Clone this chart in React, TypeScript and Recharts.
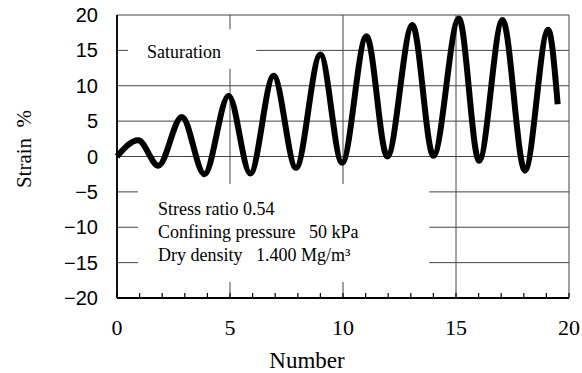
import { LineChart, Line, XAxis, YAxis, CartesianGrid, ReferenceArea } from 'recharts';

// cycle number and strain (%) at each turning point of the trace
const cycleNumber = [0, 0.94, 1.83, 2.87, 3.87, 4.94, 5.9, 6.93, 7.92, 9.0, 9.96, 11.04, 11.96, 13.07, 14.0, 15.13, 16.02, 17.06, 18.05, 19.08, 19.5];
const strain = [0, 2.3, -1.3, 5.6, -2.5, 8.6, -2.4, 11.4, -1.6, 14.4, -0.9, 17.0, 0.0, 18.6, 0.1, 19.5, -0.6, 19.3, -2.0, 17.9, 7.4];

const xTicks = [0, 1, 2, 3, 4, 5, 6, 7, 8, 9, 10, 11, 12, 13, 14, 15, 16, 17, 18, 19, 20];
const yTicks = [-20, -15, -10, -5, 0, 5, 10, 15, 20];
const gridX = [0, 5, 10, 15, 20];

const stateLabel = 'Saturation';
const noteLines = ['Stress ratio 0.54', 'Confining pressure   50 kPa', 'Dry density   1.400 Mg/m\u00B3'];

const data = cycleNumber.map((n, i) => ({ n, strain: strain[i] }));

const serif = '"Liberation Serif", "Times New Roman", serif';
const sans = '"Liberation Sans", Arial, sans-serif';

const XTick = (props: any) => {
  const { x, y, payload } = props;
  const v = payload.value;
  return (
    <g>
      <line x1={x} x2={x} y1={y} y2={y - 5} stroke="#000" strokeWidth={1.2} />
      {v % 5 === 0 && (
        <text x={x} y={y + 37} textAnchor="middle" fontFamily={serif} fontSize={22} fill="#000">
          {v}
        </text>
      )}
    </g>
  );
};

const SaturationText = () => (
  <text x={147} y={58} fontFamily={serif} fontSize={18} fill="#000">
    {stateLabel}
  </text>
);

const NotesText = () => (
  <g fontFamily={serif} fill="#000">
    {noteLines.map((t, i) => (
      <text key={i} x={158} y={215 + i * 23} fontSize={18} style={{ whiteSpace: 'pre' }}>
        {t}
      </text>
    ))}
  </g>
);

export default function App() {
  return (
    <div style={{ position: 'absolute', left: 0, top: 0, background: '#fff' }}>
      <LineChart width={582} height={373} data={data} margin={{ top: 15, right: 13, bottom: 0, left: 0 }}>
        <CartesianGrid stroke="#444" strokeWidth={1} verticalValues={gridX} />
        <ReferenceArea
          x1={0.49}
          x2={6.16}
          y1={12.4}
          y2={18.0}
          fill="#fff"
          fillOpacity={1}
          stroke="none"
          label={{ content: () => <SaturationText /> }}
        />
        <ReferenceArea
          x1={0.93}
          x2={13.82}
          y1={-17.75}
          y2={-3.9}
          fill="#fff"
          fillOpacity={1}
          stroke="none"
          label={{ content: () => <NotesText /> }}
        />
        <XAxis
          type="number"
          dataKey="n"
          domain={[0, 20]}
          ticks={xTicks}
          interval={0}
          height={75}
          tickSize={0}
          tickMargin={0}
          tickLine={false}
          tick={<XTick />}
          axisLine={{ stroke: '#000', strokeWidth: 1.8 }}
          label={{
            content: (p: any) => {
              const vb = p.viewBox;
              return (
                <text x={vb.x + vb.width / 2 - 36} y={368} textAnchor="middle" fontFamily={serif} fontSize={23} fill="#000">
                  Number
                </text>
              );
            },
          }}
        />
        <YAxis
          type="number"
          domain={[-20, 20]}
          ticks={yTicks}
          interval={0}
          width={117}
          tickSize={0}
          tickMargin={19}
          tickLine={false}
          tickFormatter={(v: number) => String(v).replace('-', '\u2212')}
          tick={{ fill: '#000', fontSize: 20, fontFamily: sans }}
          axisLine={{ stroke: '#000', strokeWidth: 1.8 }}
          label={{
            content: () => (
              <text x={31} y={149} transform="rotate(-90, 31, 149)" textAnchor="middle" fontFamily={serif} fontSize={21} fill="#000" style={{ whiteSpace: 'pre' }}>
                Strain  %
              </text>
            ),
          }}
        />
        <Line
          type="monotone"
          dataKey="strain"
          stroke="#000"
          strokeWidth={6}
          dot={false}
          isAnimationActive={false}
        />
      </LineChart>
    </div>
  );
}
